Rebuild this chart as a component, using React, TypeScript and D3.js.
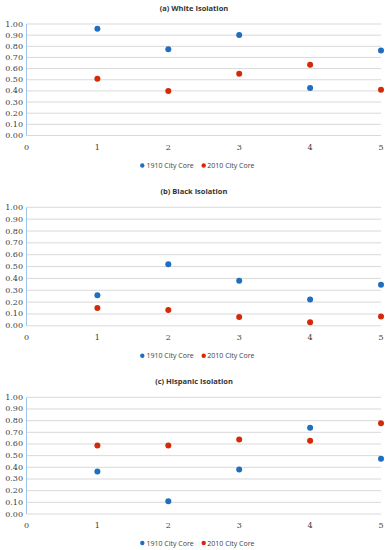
import React from "react";
import * as d3 from "d3";

const xCategories = [1, 2, 3, 4, 5];
const xTicks = [0, 1, 2, 3, 4, 5];
const yTicks = [0, 0.1, 0.2, 0.3, 0.4, 0.5, 0.6, 0.7, 0.8, 0.9, 1.0];
const seriesNames = ["1910 City Core", "2010 City Core"];
const panelTitles = ["(a) White Isolation", "(b) Black Isolation", "(c) Hispanic Isolation"];

const white1910 = [0.958, 0.774, 0.902, 0.426, 0.762];
const white2010 = [0.509, 0.399, 0.554, 0.634, 0.411];
const black1910 = [0.257, 0.52, 0.38, 0.221, 0.346];
const black2010 = [0.151, 0.134, 0.075, 0.031, 0.078];
const hisp1910 = [0.364, 0.109, 0.381, 0.739, 0.473];
const hisp2010 = [0.587, 0.587, 0.639, 0.628, 0.777];

const BLUE = "#1f6ebf";
const RED = "#d42a08";

const layouts = [
  { title: 7.5, top: 24, bottom: 135.5, xlab: 147, legend: 165.5 },
  { title: 190.8, top: 207.3, bottom: 325.8, xlab: 337.5, legend: 355.7 },
  { title: 381, top: 397.3, bottom: 514, xlab: 525, legend: 543 },
];
const panelData = [
  [white1910, white2010],
  [black1910, black2010],
  [hisp1910, hisp2010],
];

const left = 26.5;
const right = 381;

function Panel({ idx }: { idx: number }) {
  const L = layouts[idx];
  const x = d3.scaleLinear().domain([0, 5]).range([left, right]);
  const y = d3.scaleLinear().domain([0, 1]).range([L.bottom, L.top]);
  const fmt = d3.format(".2f");
  const colors = [BLUE, RED];
  return (
    <g>
      <text x={194} y={L.title} textAnchor="middle" dominantBaseline="central"
        fontFamily="'Open Sans', sans-serif" fontWeight="bold" fontSize={7.5} fill="#333">
        {panelTitles[idx]}
      </text>
      {yTicks.map((t) => (
        <g key={t}>
          <line x1={left} x2={right} y1={y(t)} y2={y(t)} stroke="#d9d9d9" strokeWidth={1} />
          <text x={23} y={y(t)} textAnchor="end" dominantBaseline="central"
            fontFamily="'DejaVu Serif', serif" fontSize={8} fill="#404040">
            {fmt(t)}
          </text>
        </g>
      ))}
      <line x1={left} x2={left} y1={L.top} y2={L.bottom} stroke="#9dc3e6" strokeWidth={1} />
      {xTicks.map((t) => (
        <text key={t} x={x(t)} y={L.xlab} textAnchor="middle" dominantBaseline="central"
          fontFamily="'DejaVu Serif', serif" fontSize={8} fill="#404040">
          {t}
        </text>
      ))}
      {panelData[idx].map((series, si) =>
        series.map((v, i) => (
          <circle key={si + "-" + i} cx={x(xCategories[i])} cy={y(v)} r={3} fill={colors[si]} />
        ))
      )}
      <g fontFamily="'Open Sans', sans-serif" fontSize={7} fill="#404040">
        <circle cx={142.3} cy={L.legend} r={2.2} fill={BLUE} />
        <text x={146.5} y={L.legend} dominantBaseline="central">{seriesNames[0]}</text>
        <circle cx={203.7} cy={L.legend} r={2.2} fill={RED} />
        <text x={207.3} y={L.legend} dominantBaseline="central">{seriesNames[1]}</text>
      </g>
    </g>
  );
}

export default function App() {
  return (
    <svg width={388} height={550} style={{ position: "absolute", left: 0, top: 0, background: "#fff" }}>
      <rect width={388} height={550} fill="#fff" />
      {[0, 1, 2].map((i) => (
        <Panel key={i} idx={i} />
      ))}
    </svg>
  );
}
